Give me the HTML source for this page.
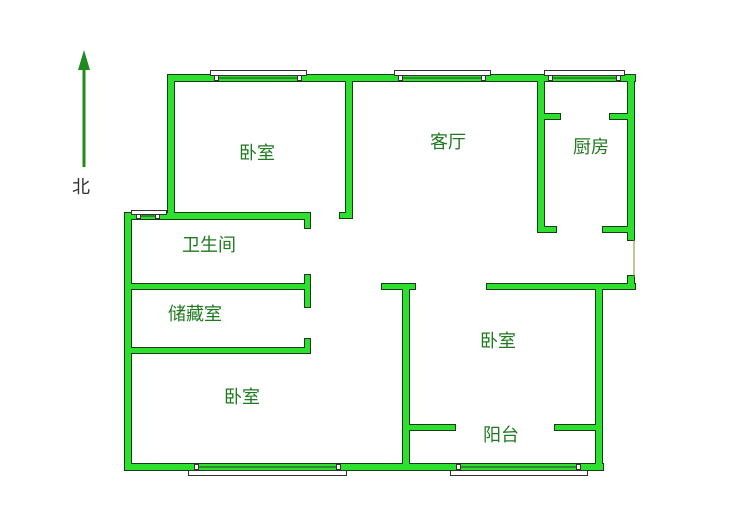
<!DOCTYPE html>
<html><head><meta charset="utf-8"><style>
body{margin:0;background:#fff;width:736px;height:512px;overflow:hidden}
svg{display:block}
text{font-family:"Liberation Sans","Noto Sans CJK SC",sans-serif;font-size:18px;fill:#1f7a1f;text-anchor:middle}
</style></head><body>
<svg width="736" height="512" viewBox="0 0 736 512">
<defs>
<g id="w">
<rect x="168" y="75" width="467" height="6"/>
<rect x="168" y="75" width="6" height="144"/>
<rect x="346" y="81" width="6" height="137"/>
<rect x="340" y="213" width="12" height="5"/>
<rect x="125" y="213" width="185" height="6"/>
<rect x="305" y="213" width="5" height="15"/>
<rect x="125" y="213" width="6" height="257"/>
<rect x="125" y="464" width="478" height="6"/>
<rect x="131" y="284" width="179" height="5"/>
<rect x="305" y="275" width="5" height="32"/>
<rect x="131" y="348" width="179" height="5"/>
<rect x="305" y="339" width="5" height="14"/>
<rect x="382" y="284" width="33" height="5"/>
<rect x="403" y="284" width="6" height="184"/>
<rect x="487" y="284" width="148" height="5"/>
<rect x="596" y="284" width="6" height="186"/>
<rect x="403" y="425" width="52" height="5"/>
<rect x="555" y="425" width="47" height="5"/>
<rect x="538" y="75" width="6" height="157"/>
<rect x="538" y="114" width="22" height="5"/>
<rect x="538" y="227" width="18" height="5"/>
<rect x="610" y="114" width="22" height="5"/>
<rect x="603" y="227" width="29" height="5"/>
<rect x="628" y="75" width="6" height="165"/>
<rect x="628" y="276" width="6" height="13"/>
</g>
</defs>
<use href="#w" fill="#1a3a1a" stroke="#1a3a1a" stroke-width="2"/>
<use href="#w" fill="#2ee02e"/>
<line x1="634" y1="240" x2="634" y2="277" stroke="#8a8a30" stroke-width="1"/>
<g fill="#fff" stroke="#333" stroke-width="1">
<rect x="210.5" y="70.5" width="96" height="5"/><rect x="214.5" y="75.5" width="4" height="5"/><rect x="297.5" y="75.5" width="4" height="5"/><line x1="219" y1="78" x2="297" y2="78"/>
<rect x="394.5" y="70.5" width="96" height="5"/><rect x="398.5" y="75.5" width="4" height="5"/><rect x="481.5" y="75.5" width="4" height="5"/><line x1="403" y1="78" x2="481" y2="78"/>
<rect x="544.5" y="70.5" width="80" height="5"/><rect x="548.5" y="75.5" width="4" height="5"/><rect x="616.5" y="75.5" width="4" height="5"/><line x1="553" y1="78" x2="616" y2="78"/>
<rect x="131.5" y="210.5" width="35" height="4"/><rect x="136.5" y="214.5" width="4" height="4"/><rect x="155.5" y="214.5" width="4" height="4"/><line x1="141" y1="216" x2="155" y2="216"/>
<rect x="188.5" y="470.5" width="158" height="5"/><rect x="194.5" y="464.5" width="4" height="5"/><rect x="336.5" y="464.5" width="4" height="5"/><line x1="199" y1="467" x2="336" y2="467"/>
<rect x="450.5" y="470.5" width="137" height="5"/><rect x="456.5" y="464.5" width="4" height="5"/><rect x="576.5" y="464.5" width="4" height="5"/><line x1="461" y1="467" x2="576" y2="467"/>
</g>
<line x1="84" y1="68" x2="84" y2="167" stroke="#1f8a1f" stroke-width="3"/>
<polygon points="84,50 78,70 90,70" fill="#1f8a1f"/>
<text x="81" y="193" style="fill:#333">北</text>
<text x="257" y="159">卧室</text>
<text x="448" y="148">客厅</text>
<text x="591" y="153">厨房</text>
<text x="209" y="251">卫生间</text>
<text x="195" y="320">储藏室</text>
<text x="242" y="403">卧室</text>
<text x="498" y="347">卧室</text>
<text x="501" y="441">阳台</text>
</svg>
</body></html>
